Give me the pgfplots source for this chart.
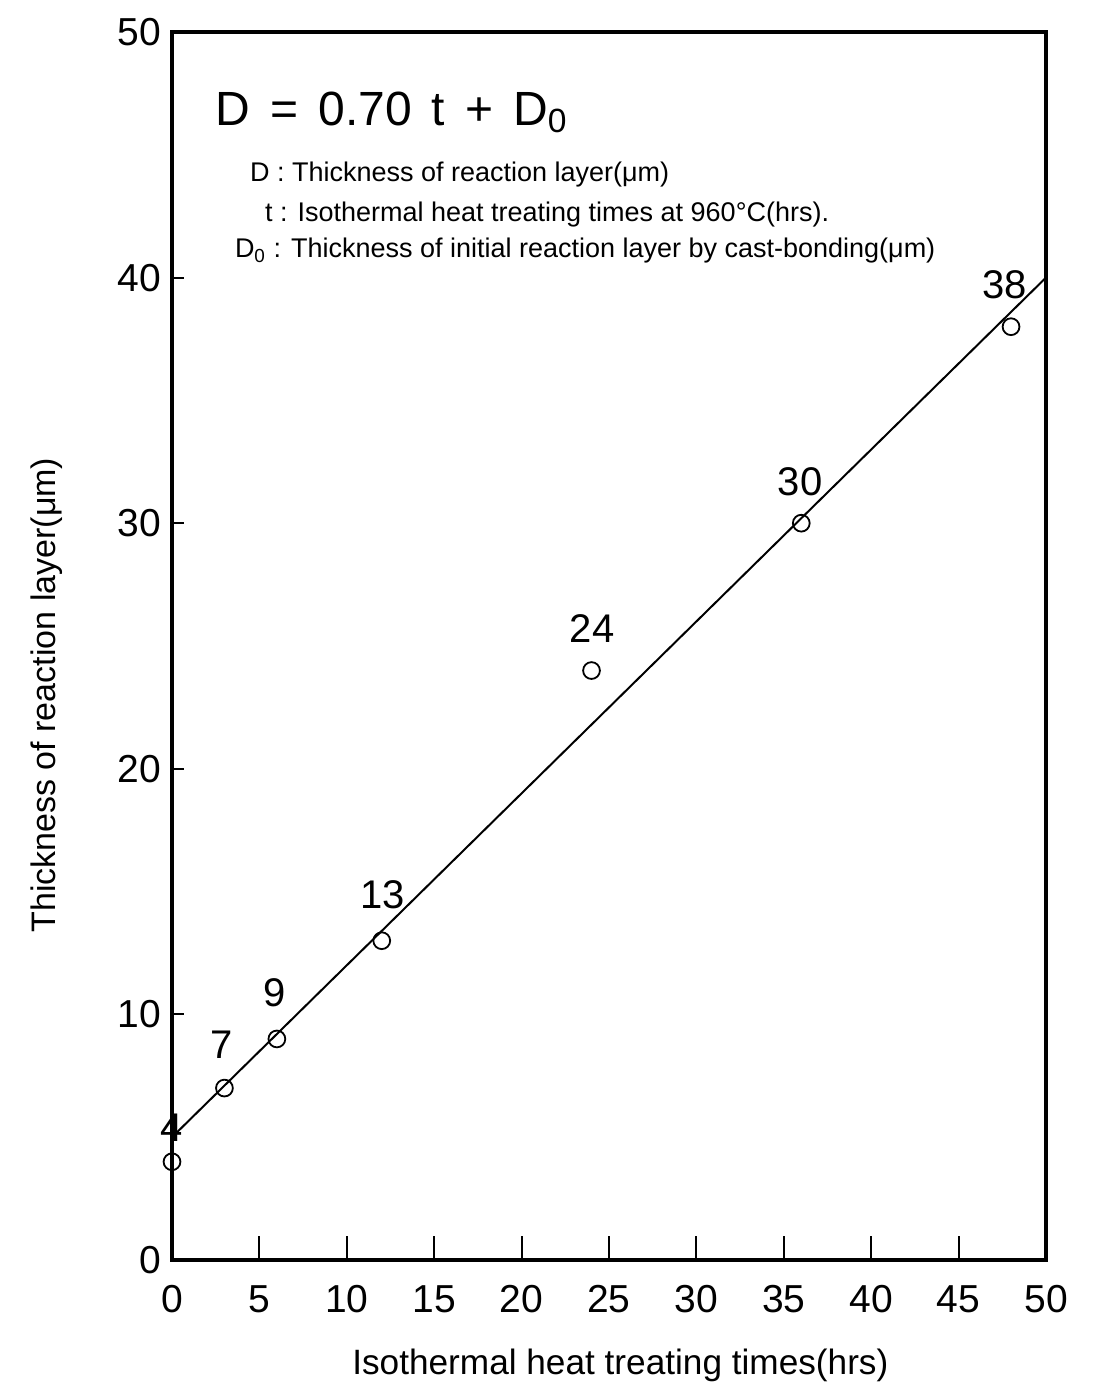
\documentclass[border=0pt]{standalone}
\usepackage{fontspec}
\setmainfont{Liberation Sans}
\usepackage{pgfplots}
\pgfplotsset{compat=1.18}
\pgfplotstableread{
x y
0 4
3 7
6 9
12 13
24 24
36 30
48 38
}\measured
\pgfplotstableread{
x y label
0 5.37 4
2.86 8.75 7
5.89 10.87 9
12.07 14.86 13
24.03 25.73 24
35.93 31.68 30
47.65 39.70 38
}\labels
\begin{document}
\begin{tikzpicture}
\path[use as bounding box] (-86pt,-62.5pt) rectangle (461pt,630pt);
\begin{axis}[
  at={(0,0)}, anchor=south west, scale only axis,
  width=437pt, height=614pt,
  xmin=0, xmax=50, ymin=0, ymax=50,
  xtick={0,5,...,50}, ytick={0,10,...,50},
  tick align=inside, xtick pos=bottom, ytick pos=left,
  major tick length=6pt,
  major x tick style={draw=none},
  tick style={line width=1pt, black},
  axis line style={line width=2pt},
  /pgf/number format/assume math mode=true,
  ticklabel style={font=\fontsize{19.5}{22}\selectfont},
  xticklabel style={anchor=north, text height=14pt, text depth=0pt, yshift=-8.5pt},
  yticklabel style={xshift=-2pt},
  clip=false,
]
\addplot[black, line width=1pt] coordinates {(0,5) (50,40)};
\addplot[only marks, mark=o, mark size=4.2pt, mark options={line width=0.9pt, fill=white, draw=black}] table {\measured};
\addplot[draw=none, mark=none, nodes near coords, point meta=explicit symbolic,
  every node near coord/.style={anchor=center, font=\fontsize{20}{22}\selectfont, inner sep=0pt}]
  table[meta=label] {\labels};
\node[anchor=base west, font=\fontsize{24}{27}\selectfont] at (axis cs:2.1,46.21)
  {D\hspace{10pt}=\hspace{10pt}0.70\hspace{10pt}t\hspace{10pt}+\hspace{10pt}D\textsubscript{0}};
\node[anchor=base west, font=\fontsize{13.5}{15}\selectfont] at (axis cs:4.06,43.93)
  {D : Thickness of reaction layer(μm)};
\node[anchor=base west, font=\fontsize{13.5}{15}\selectfont] at (axis cs:4.92,42.3)
  {t : Isothermal heat treating times at 960°C(hrs).};
\node[anchor=base west, font=\fontsize{13.5}{15}\selectfont] at (axis cs:3.2,40.8)
  {D\textsubscript{0} : Thickness of initial reaction layer by cast-bonding(μm)};
\node[rotate=90, font=\fontsize{17}{19}\selectfont] at ([xshift=-62.5pt]rel axis cs:0,0.46)
  {Thickness of reaction layer(μm)};
\node[font=\fontsize{17.6}{19}\selectfont] at ([yshift=-52.5pt]rel axis cs:0.513,0)
  {Isothermal heat treating times(hrs)};
\end{axis}
\begin{axis}[
  at={(0,0)}, anchor=south west, scale only axis,
  width=437pt, height=614pt,
  xmin=0, xmax=50, ymin=0, ymax=50,
  xtick={5,10,...,45}, ytick=\empty, xticklabels={},
  tick align=inside, xtick pos=bottom,
  major tick length=12pt,
  tick style={line width=1pt, black},
  axis line style={draw=none},
]
\end{axis}
\end{tikzpicture}
\end{document}
